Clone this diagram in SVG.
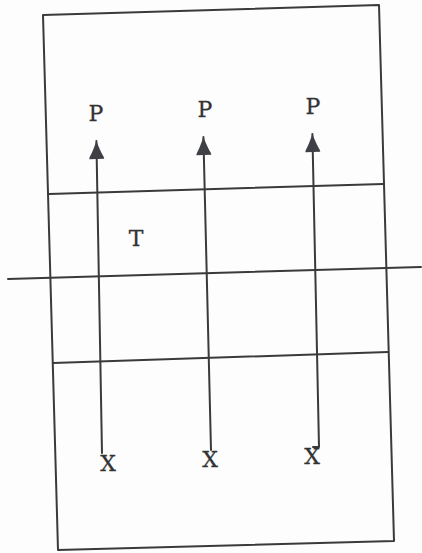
<svg xmlns="http://www.w3.org/2000/svg" width="422" height="553" viewBox="0 0 422 553">
<style>
.ln{stroke:#3a3a3a;stroke-width:2;fill:none;stroke-linecap:round;stroke-linejoin:round}
.lb{font-family:'DejaVu Serif','Liberation Serif',serif;font-size:22px;fill:#333;stroke:#333;stroke-width:0.3;text-anchor:middle}
</style>
<defs>
<marker id="ah" markerUnits="userSpaceOnUse" markerWidth="24" markerHeight="20" viewBox="0 -10 20 20" refX="18" refY="0" orient="auto">
<path d="M0,-7.5 L2,-7 Q7,-4 18,0 Q7,4 2,7 L0,7.5 Z" fill="#3f3f46"/>
</marker>
</defs>
<rect width="422" height="553" fill="#fdfdfd"/>
<g id="frame">
<polygon class="ln" points="43,15 379,5 394,541 58,550"/>
<line class="ln" x1="49" y1="194" x2="383" y2="184"/>
<line class="ln" x1="8" y1="279" x2="421" y2="267"/>
<line class="ln" x1="53" y1="363" x2="388" y2="352"/>
</g>
<g id="connectors">
<line class="ln" x1="102" y1="453" x2="96.4" y2="141" marker-end="url(#ah)"/>
<line class="ln" x1="211" y1="450" x2="203.4" y2="137" marker-end="url(#ah)"/>
<path class="ln" d="M313,447 L319,447 L312.4,134" marker-end="url(#ah)"/>
</g>
<g id="node-P1"><text class="lb" x="96" y="121">P</text></g>
<g id="node-P2"><text class="lb" x="205" y="117">P</text></g>
<g id="node-P3"><text class="lb" x="313" y="114">P</text></g>
<g id="node-T"><text class="lb" x="136" y="246">T</text></g>
<g id="node-X1"><text class="lb" x="108" y="471">X</text></g>
<g id="node-X2"><text class="lb" x="210" y="467">X</text></g>
<g id="node-X3"><text class="lb" x="312" y="464">X</text></g>
</svg>
